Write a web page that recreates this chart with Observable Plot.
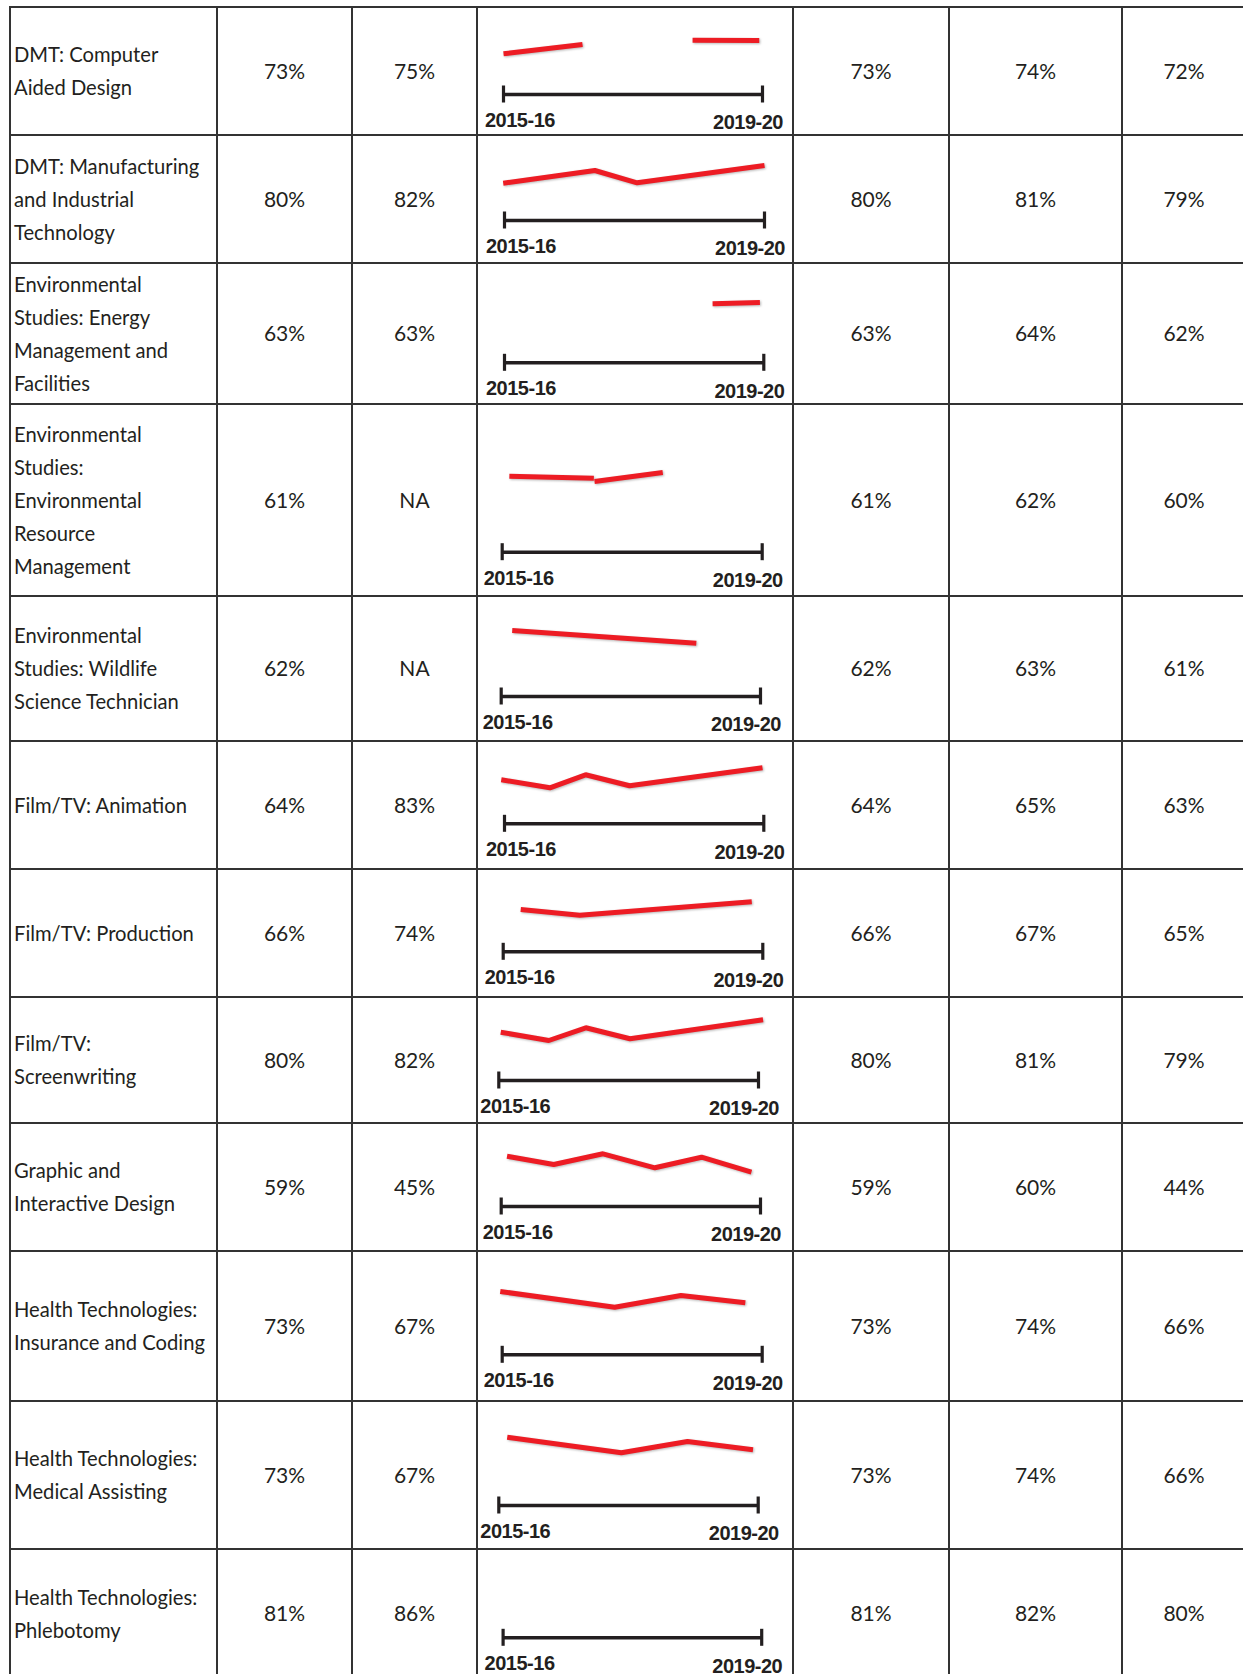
<!DOCTYPE html>
<html><head><meta charset="utf-8">
<script src="https://cdn.jsdelivr.net/npm/d3@7"></script>
<script src="https://cdn.jsdelivr.net/npm/@observablehq/plot@0.6"></script>
<style>
html,body{margin:0;padding:0;overflow:hidden;background:#fff;width:1243px;height:1674px}
#grid{position:absolute;left:9px;top:6px;display:grid;gap:2px;padding:2px;background:#333;}
.cell{background:#fff;display:flex;align-items:center;overflow:hidden;color:#231f20;font-family:Lato,"Open Sans",sans-serif;}
.label{font-size:20.2px;line-height:33px;white-space:pre-line;padding-left:3px;}
.num{justify-content:center;font-size:21px;padding-bottom:2px;}
.spark{display:block;}
.spark svg{display:block;}
.spark g[aria-label="text"] text{letter-spacing:-0.5px;}
.spark g[aria-label="line"] path{filter:drop-shadow(1px 1.5px 1px rgba(0,0,0,0.28));}
</style></head><body><div id="grid"></div>
<script>
// ---------- data ----------
const programs = [
  "DMT: Computer\nAided Design",
  "DMT: Manufacturing\nand Industrial\nTechnology",
  "Environmental\nStudies: Energy\nManagement and\nFacilities",
  "Environmental\nStudies:\nEnvironmental\nResource\nManagement",
  "Environmental\nStudies: Wildlife\nScience Technician",
  "Film/TV: Animation",
  "Film/TV: Production",
  "Film/TV:\nScreenwriting",
  "Graphic and\nInteractive Design",
  "Health Technologies:\nInsurance and Coding",
  "Health Technologies:\nMedical Assisting",
  "Health Technologies:\nPhlebotomy"
];
const rateA = [73, 80, 63, 61, 62, 64, 66, 80, 59, 73, 73, 81];
const rateB = [75, 82, 63, null, null, 83, 74, 82, 45, 67, 67, 86];
const rateC = [73, 80, 63, 61, 62, 64, 66, 80, 59, 73, 73, 81];
const rateD = [74, 81, 64, 62, 63, 65, 67, 81, 60, 74, 74, 82];
const rateE = [72, 79, 62, 60, 61, 63, 65, 79, 44, 66, 66, 80];
const yearLabels = ["2015-16", "2019-20"];

// trend lines: segments of [years since 2015-16, relative level]
const trendCAD = [[[0, 40.7], [1.22, 50]], [[2.92, 54.3], [3.95, 54]]];
const trendManufacturing = [[[-0.02, 37.3], [1.39, 50], [2.04, 37.7], [4.0, 55]]];
const trendEnergy = [[[3.21, 59], [3.94, 60.3]]];
const trendResource = [[[0.11, 76], [1.41, 74]], [[1.42, 70.7], [2.47, 79.7]]];
const trendWildlife = [[[0.17, 66], [3.01, 53.3]]];
const trendAnimation = [[[-0.05, 44], [0.70, 36], [1.25, 49], [1.93, 38], [3.98, 56]]];
const trendProduction = [[[0.27, 42.3], [1.18, 36.6], [3.83, 50]]];
const trendScreenwriting = [[[0.03, 48.3], [0.77, 40], [1.34, 52.7], [2.02, 41.7], [4.07, 60.7]]];
const trendGraphic = [[[0.09, 50.3], [0.81, 42], [1.57, 52.7], [2.37, 38.7], [3.09, 49.3], [3.86, 34.3]]];
const trendInsurance = [[[-0.03, 63.3], [1.73, 47.6], [2.75, 59.3], [3.74, 52]]];
const trendMedical = [[[0.13, 68.3], [1.89, 52.7], [2.91, 64], [3.92, 55.7]]];
const trendPhlebotomy = [];
const trends = [trendCAD, trendManufacturing, trendEnergy, trendResource, trendWildlife,
  trendAnimation, trendProduction, trendScreenwriting, trendGraphic, trendInsurance,
  trendMedical, trendPhlebotomy];

// ---------- layout ----------
const colWidths = [205, 133, 123, 314, 154, 171, 122];
const rowLines = [7, 135, 263, 404, 596, 741, 869, 997, 1123, 1251, 1401, 1549, 1678];
const sparkCellLeft = 478;
const axisLeft = [503, 504, 504, 501.7, 500.7, 504, 502.7, 498.3, 500.7, 501.7, 498.3, 502.6];
const axisRight = [762, 764, 763.3, 761.7, 760, 763.3, 762.3, 758, 760, 761.7, 757.7, 761.2];
const axisY = [94, 220, 362.3, 551.7, 696, 823.3, 951.3, 1080, 1206, 1354.3, 1505, 1637.3];

const ink = "#231f20";
const fmt = v => v == null ? "NA" : v + "%";

function spark(i) {
  const top = rowLines[i] + 1;
  const h = rowLines[i + 1] - rowLines[i] - 2;
  const ay = axisY[i] - top;
  const pts = trends[i].flatMap((seg, s) => seg.map(([t, level]) => ({t, level, seg: s})));
  const lab = {fontSize: 20, fontWeight: "bold", fontFamily: "Liberation Sans, Arial, sans-serif",
    fill: ink, lineAnchor: "bottom", text: d => d};
  return Plot.plot({
    width: colWidths[3], height: h, margin: 0,
    x: {domain: [0, 4], range: [axisLeft[i] - sparkCellLeft, axisRight[i] - sparkCellLeft], axis: null},
    y: {domain: [0, 100], range: [ay, ay - 100], axis: null},
    style: {background: "transparent", overflow: "visible"},
    marks: [
      Plot.ruleY([0], {x1: 0, x2: 4, stroke: ink, strokeWidth: 3.6}),
      Plot.ruleX([0, 4], {y1: -8.5, y2: 8.5, stroke: ink, strokeWidth: 3.2}),
      Plot.text([yearLabels[0]], {...lab, x: 0, y: -32.5, textAnchor: "start", dx: -18.5}),
      Plot.text([yearLabels[1]], {...lab, x: 4, y: -34.8, textAnchor: "end", dx: 20.5}),
      Plot.line(pts, {x: "t", y: "level", z: "seg", stroke: "#ed1c24", strokeWidth: 5,
        strokeLinejoin: "miter", strokeLinecap: "butt"})
    ]
  });
}

const grid = document.getElementById("grid");
grid.style.gridTemplateColumns = colWidths.map(w => w + "px").join(" ");
grid.style.gridTemplateRows = rowLines.slice(1).map((l, i) => (l - rowLines[i] - 2) + "px").join(" ");
function cell(cls, content) {
  const d = document.createElement("div");
  d.className = "cell " + cls;
  if (typeof content === "string") d.textContent = content; else d.appendChild(content);
  grid.appendChild(d);
}
programs.forEach((name, i) => {
  cell("label", name);
  cell("num", fmt(rateA[i]));
  cell("num", fmt(rateB[i]));
  cell("spark", spark(i));
  cell("num", fmt(rateC[i]));
  cell("num", fmt(rateD[i]));
  cell("num", fmt(rateE[i]));
});
</script></body></html>
